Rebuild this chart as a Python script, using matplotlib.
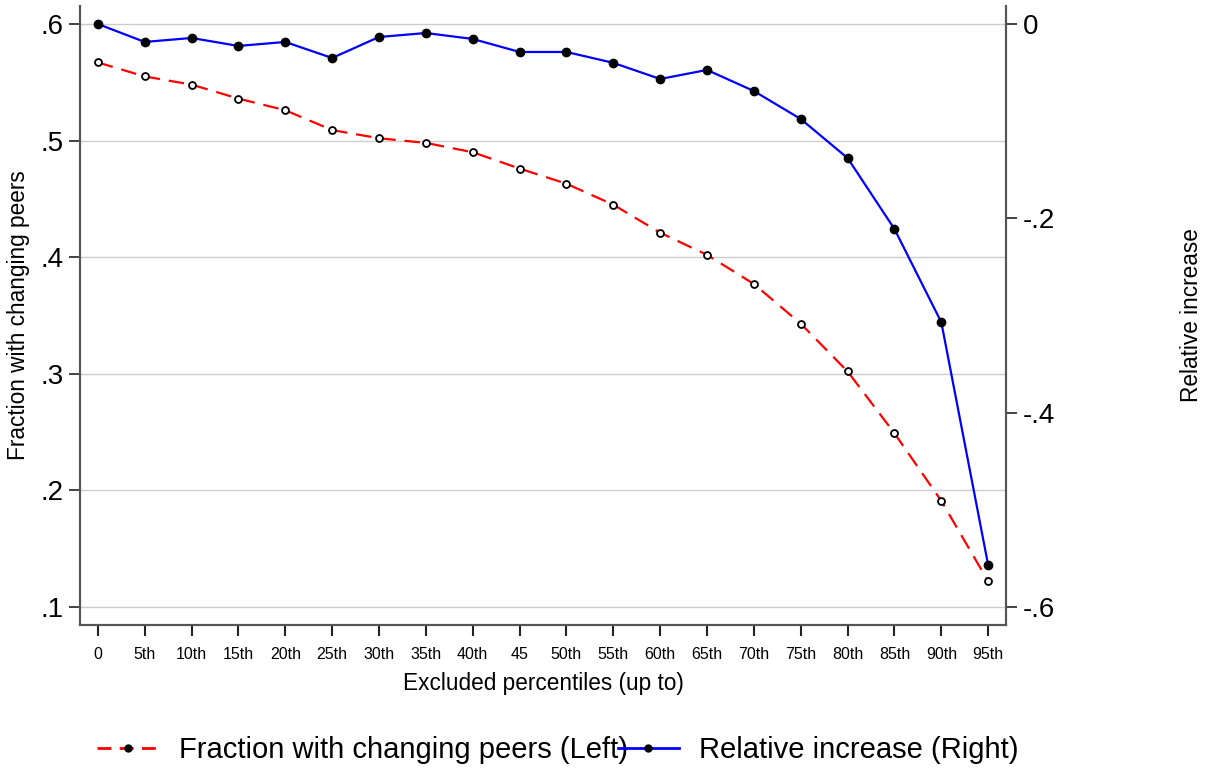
import matplotlib.pyplot as plt
from matplotlib.lines import Line2D

plt.rcParams['font.family'] = ['Liberation Sans', 'DejaVu Sans']

# data
percentiles = ['0', '5th', '10th', '15th', '20th', '25th', '30th', '35th', '40th', '45',
               '50th', '55th', '60th', '65th', '70th', '75th', '80th', '85th', '90th', '95th']
fraction_changing = [0.567, 0.555, 0.548, 0.536, 0.526, 0.509, 0.502, 0.498, 0.490, 0.476,
                     0.463, 0.445, 0.421, 0.402, 0.377, 0.343, 0.302, 0.249, 0.191, 0.122]
relative_increase = [0.0, -0.0185, -0.0144, -0.0226, -0.0185, -0.035, -0.0134, -0.0093, -0.0154, -0.0288,
                     -0.0288, -0.040, -0.0566, -0.0473, -0.069, -0.0978, -0.138, -0.211, -0.307, -0.557]
left_ticks = [0.1, 0.2, 0.3, 0.4, 0.5, 0.6]
left_labels = ['.1', '.2', '.3', '.4', '.5', '.6']
right_ticks = [0, -0.2, -0.4, -0.6]
right_labels = ['0', '-.2', '-.4', '-.6']

fig = plt.figure(figsize=(12.08, 7.7), dpi=100)
ax = fig.add_axes([80 / 1208, 1 - 625 / 770, 926 / 1208, 619 / 770])
ax2 = ax.twinx()

x = list(range(len(percentiles)))
spine_col = '#555555'

ax.plot(x, fraction_changing, color='red', lw=1.6, dashes=(7, 4), marker='o', ms=5,
        mfc='white', mec='black', mew=1.3, zorder=3)
ax2.plot(x, relative_increase, color='blue', lw=1.6, marker='o', ms=6,
         mfc='black', mec='black', zorder=3)

ax.set_xlim(-0.38, 19.38)
ax.set_ylim(0.0846, 0.6154)
ax2.set_ylim(-0.6185, 0.0185)

ax.set_xticks(x)
ax.set_xticklabels(percentiles, fontsize=11.5)
ax.set_yticks(left_ticks)
ax.set_yticklabels(left_labels, fontsize=20)
ax2.set_yticks(right_ticks)
ax2.set_yticklabels(right_labels, fontsize=20)

ax.yaxis.grid(True, color='#cccccc', lw=1)
ax.set_axisbelow(True)

ax.tick_params(axis='x', length=8, width=1.5, color='#222222', pad=8)
ax.tick_params(axis='y', length=8, width=1.2, color='#222222', pad=4)
ax2.tick_params(axis='y', length=8, width=1.2, color='#222222', pad=4)

for a in (ax, ax2):
    a.spines['top'].set_visible(False)
    for s in ('left', 'right', 'bottom'):
        a.spines[s].set_color(spine_col)
        a.spines[s].set_linewidth(1.5)

ax.set_xlabel('Excluded percentiles (up to)', fontsize=16.3, labelpad=7)
ax.set_ylabel('Fraction with changing peers', fontsize=16.3, labelpad=7)
ax2.set_ylabel('Relative increase', fontsize=16.3, labelpad=90)

handles = [
    Line2D([], [], color='red', lw=2, dashes=(5, 3), marker='o', ms=5, mfc='black', mec='black'),
    Line2D([], [], color='blue', lw=2, marker='o', ms=5, mfc='black', mec='black'),
]
fig.legend(handles, ['Fraction with changing peers (Left)', 'Relative increase (Right)'],
           loc='center', bbox_to_anchor=(0.462, 1 - 750 / 770), ncol=2, frameon=False,
           fontsize=21, handlelength=2.1, columnspacing=-0.35, handletextpad=0.7)

fig.savefig('out.png', dpi=100)
